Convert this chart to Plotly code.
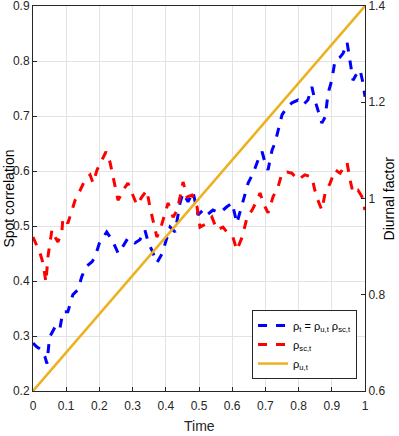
import plotly.graph_objects as go

# blue: rho_t = rho_u,t * rho_sc,t
t_blue = [0.0, 0.012, 0.025, 0.036, 0.042, 0.05, 0.066, 0.08, 0.09, 0.105, 0.12, 0.135,
          0.147, 0.16, 0.178, 0.187, 0.2, 0.222, 0.238, 0.257, 0.268, 0.286, 0.307, 0.322,
          0.337, 0.347, 0.358, 0.373, 0.389, 0.398, 0.413, 0.428, 0.443, 0.452, 0.467,
          0.482, 0.497, 0.512, 0.524, 0.542, 0.563, 0.584, 0.6, 0.614, 0.623, 0.633,
          0.648, 0.663, 0.678, 0.69, 0.699, 0.708, 0.72, 0.729, 0.738, 0.75, 0.765,
          0.78, 0.798, 0.813, 0.828, 0.84, 0.849, 0.858, 0.87, 0.88, 0.889, 0.9, 0.91,
          0.925, 0.934, 0.946, 0.955, 0.964, 0.976, 0.985, 0.994, 1.0]
rho_blue = [0.287, 0.28, 0.275, 0.262, 0.25, 0.298, 0.316, 0.31, 0.344, 0.344, 0.375, 0.384,
            0.408, 0.426, 0.435, 0.444, 0.469, 0.489, 0.475, 0.45, 0.46, 0.478, 0.469, 0.475,
            0.493, 0.47, 0.456, 0.433, 0.45, 0.469, 0.498, 0.489, 0.542, 0.56, 0.544,
            0.562, 0.52, 0.529, 0.52, 0.529, 0.524, 0.535, 0.542, 0.505, 0.524, 0.547,
            0.578, 0.596, 0.62, 0.635, 0.615, 0.602, 0.638, 0.651, 0.675, 0.702, 0.716,
            0.724, 0.729, 0.72, 0.729, 0.753, 0.729, 0.711, 0.687, 0.698, 0.742, 0.765, 0.802,
            0.807, 0.814, 0.834, 0.796, 0.765, 0.778, 0.784, 0.76, 0.735]

# red: rho_sc,t
t_red = [0.0, 0.012, 0.021, 0.03, 0.039, 0.045, 0.057, 0.066, 0.075, 0.087, 0.09, 0.105,
         0.117, 0.127, 0.142, 0.157, 0.172, 0.181, 0.193, 0.208, 0.22, 0.232, 0.241, 0.256,
         0.262, 0.271, 0.286, 0.298, 0.313, 0.328, 0.343, 0.352, 0.361, 0.373, 0.383,
         0.392, 0.407, 0.422, 0.434, 0.443, 0.452, 0.464, 0.479, 0.494, 0.503, 0.524,
         0.539, 0.554, 0.572, 0.587, 0.602, 0.614, 0.63, 0.645, 0.66, 0.675, 0.684,
         0.693, 0.708, 0.723, 0.738, 0.75, 0.765, 0.78, 0.798, 0.819, 0.84, 0.849, 0.858,
         0.87, 0.88, 0.895, 0.91, 0.925, 0.946, 0.955, 0.964, 0.979, 0.991, 1.0]
rho_red = [0.48, 0.465, 0.451, 0.433, 0.398, 0.444, 0.493, 0.48, 0.471, 0.489, 0.515, 0.505,
           0.529, 0.547, 0.565, 0.584, 0.593, 0.578, 0.602, 0.62, 0.635, 0.616, 0.589, 0.547,
           0.553, 0.565, 0.578, 0.56, 0.538, 0.553, 0.565, 0.535, 0.511, 0.48, 0.493,
           0.511, 0.542, 0.516, 0.529, 0.553, 0.58, 0.553, 0.556, 0.535, 0.498, 0.505,
           0.516, 0.493, 0.498, 0.487, 0.48, 0.456, 0.48, 0.516, 0.529, 0.547, 0.56,
           0.542, 0.524, 0.553, 0.571, 0.596, 0.598, 0.596, 0.584, 0.593, 0.589, 0.565, 0.547,
           0.529, 0.56, 0.578, 0.602, 0.596, 0.615, 0.584, 0.56, 0.565, 0.553, 0.529]

# orange: rho_u,t (diurnal factor, right axis)
t_u = [0.0, 1.0]
rho_u = [0.6, 1.4]

x_ticks = [0, 0.1, 0.2, 0.3, 0.4, 0.5, 0.6, 0.7, 0.8, 0.9, 1]
x_labels = ["0", "0.1", "0.2", "0.3", "0.4", "0.5", "0.6", "0.7", "0.8", "0.9", "1"]
yl_ticks = [0.2, 0.3, 0.4, 0.5, 0.6, 0.7, 0.8, 0.9]
yl_labels = ["0.2", "0.3", "0.4", "0.5", "0.6", "0.7", "0.8", "0.9"]
yr_ticks = [0.6, 0.8, 1.0, 1.2, 1.4]
yr_labels = ["0.6", "0.8", "1", "1.2", "1.4"]

FONT = "Liberation Sans Narrow, Arial Narrow, Liberation Sans, Arial, sans-serif"
AX = "#262626"
GRID = "#e3e3e3"

fig = go.Figure()
fig.add_trace(go.Scatter(x=t_blue, y=rho_blue, mode="lines",
                         line=dict(color="#0000ff", width=3, dash="dash"),
                         name="ρ<sub>t</sub> = ρ<sub>u,t</sub> ρ<sub>sc,t</sub>"))
fig.add_trace(go.Scatter(x=t_red, y=rho_red, mode="lines",
                         line=dict(color="#ff0000", width=3, dash="dash"),
                         name="ρ<sub>sc,t</sub>"))
fig.add_trace(go.Scatter(x=t_u, y=rho_u, mode="lines", yaxis="y2",
                         line=dict(color="#edb120", width=2.5),
                         name="ρ<sub>u,t</sub>"))

fig.update_layout(
    width=399, height=436,
    margin=dict(l=33, r=34, t=6, b=45),
    paper_bgcolor="white", plot_bgcolor="white",
    font=dict(family=FONT, size=12, color=AX),
    showlegend=True,
    legend=dict(x=0.976, y=0.031, xanchor="right", yanchor="bottom",
                bgcolor="white", bordercolor=AX, borderwidth=1,
                font=dict(family=FONT, size=11, color="black"),
                tracegroupgap=0, itemwidth=30),
    xaxis=dict(range=[0, 1], tickvals=x_ticks, ticktext=x_labels,
               showgrid=True, gridcolor=GRID, automargin=False,
               showline=True, linecolor=AX, linewidth=1, mirror=True,
               ticks="inside", ticklen=4, tickcolor=AX, zeroline=False,
               ticklabeloverflow="allow", ticklabelstandoff=4),
    yaxis=dict(range=[0.2, 0.9], tickvals=yl_ticks, ticktext=yl_labels,
               showgrid=True, gridcolor=GRID, automargin=False,
               showline=True, linecolor=AX, linewidth=1,
               ticks="inside", ticklen=4, tickcolor=AX, zeroline=False,
               ticklabeloverflow="allow"),
    yaxis2=dict(range=[0.6, 1.4], tickvals=yr_ticks, ticktext=yr_labels,
                overlaying="y", side="right", automargin=False,
                showgrid=False, showline=True, linecolor=AX, linewidth=1,
                ticks="inside", ticklen=4, tickcolor=AX, zeroline=False,
                ticklabeloverflow="allow"),
    annotations=[
        dict(text="Time", x=0.5, y=-0.065, xref="paper", yref="paper",
             xanchor="center", yanchor="top", showarrow=False,
             font=dict(family=FONT, size=14, color=AX)),
        dict(text="Spot correlation", x=-0.075, y=0.5, xref="paper", yref="paper",
             xanchor="center", yanchor="middle", textangle=-90, showarrow=False,
             font=dict(family=FONT, size=14, color="black")),
        dict(text="Diurnal factor", x=1.072, y=0.5, xref="paper", yref="paper",
             xanchor="center", yanchor="middle", textangle=-90, showarrow=False,
             font=dict(family=FONT, size=14, color="black")),
    ],
)

# the page body has a default 8px margin; remove it so the chart sits at the window corner
fig.write_html("out.html", config={"displayModeBar": False},
               post_script="document.body.style.margin='0';")
